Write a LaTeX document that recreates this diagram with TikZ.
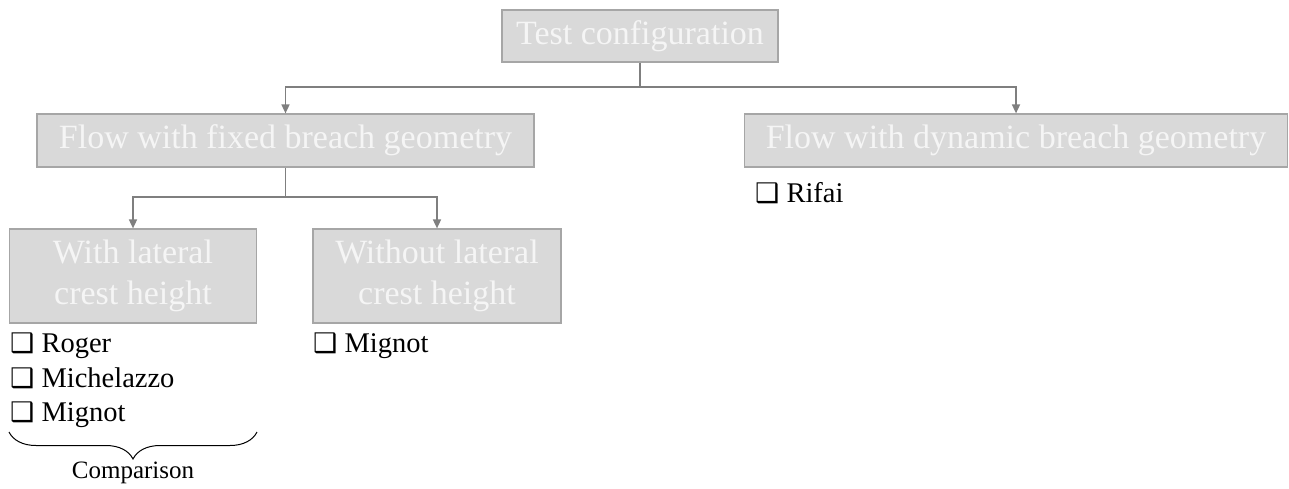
\documentclass[tikz,border=0pt]{standalone}
\usepackage{fontspec}
\setmainfont{Liberation Serif}
\newfontfamily\symfont{DejaVu Sans}
\usetikzlibrary{arrows.meta,decorations.pathreplacing}
\definecolor{boxfill}{HTML}{D9D9D9}
\definecolor{boxline}{HTML}{A6A6A6}
\definecolor{connline}{HTML}{7F7F7F}
\definecolor{boxtext}{HTML}{F5F5F5}
\newcommand{\chk}{{\symfont\fontsize{27}{27}\selectfont ❑}}
\tikzset{
  box/.style={draw=boxline, line width=1.2pt, fill=boxfill, text=boxtext, inner sep=0pt,
    font=\fontsize{34}{41}\selectfont, align=center},
  conn/.style={draw=connline, line width=1.6pt, -{Triangle[length=9pt,width=8pt]}},
  item/.style={anchor=base west, inner sep=0pt, font=\fontsize{28.5}{28.5}\selectfont},
}
\begin{document}
\begin{tikzpicture}[x=1pt,y=-1pt]
\useasboundingbox (0,0) rectangle (1289,488);
\node[box, minimum width=276pt, minimum height=52pt] (test) at (640,36) {Test configuration};
\node[box, minimum width=497pt, minimum height=53pt] (fixed) at (285.5,140.5) {Flow with fixed breach geometry};
\node[box, minimum width=543pt, minimum height=53pt] (dyn) at (1016,140.5) {Flow with dynamic breach geometry};
\node[box, minimum width=247pt, minimum height=94pt] (with) at (133,276) {With lateral\\crest height};
\node[box, minimum width=248pt, minimum height=94pt] (without) at (437,276) {Without lateral\\crest height};

\coordinate (j1) at (640,87);
\coordinate (j2) at (285.5,197);
\draw[conn] (test.south) -- (j1) -| (fixed.north);
\draw[conn] (j1) -| (dyn.north);
\draw[conn] (fixed.south) -- (j2) -| (with.north);
\draw[conn] (j2) -| (without.north);

\node[item] (r1) at (10,352) {\chk\ Roger};
\node[item] (r2) at (10,387) {\chk\ Michelazzo};
\node[item] (r3) at (10,421) {\chk\ Mignot};
\node[item] (m1) at (313,352) {\chk\ Mignot};
\node[item] (rf) at (755,202) {\chk\ Rifai};

\coordinate (b1) at (9,432);
\coordinate (b2) at (257,432);
\draw[line width=1pt, decorate, decoration={brace, mirror, amplitude=27pt}] (b1) -- (b2);
\node[inner sep=0pt, font=\fontsize{25}{25}\selectfont] (cmp) at (133,473) {Comparison};
\end{tikzpicture}
\end{document}
